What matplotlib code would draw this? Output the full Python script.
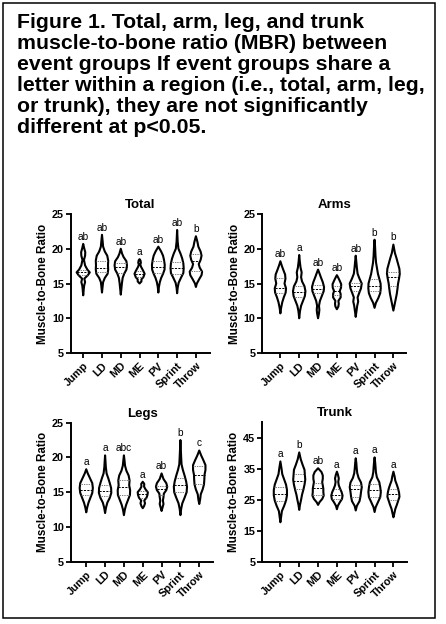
import matplotlib
matplotlib.use("Agg")
import matplotlib.pyplot as plt
import numpy as np
from matplotlib.patches import Rectangle

plt.rcParams["font.family"] = ["Liberation Sans", "DejaVu Sans"]

GROUPS = ["Jump", "LD", "MD", "ME", "PV", "Sprint", "Throw"]

# violin outlines: (ratio, half-width in category units)
total_shape = [
    [(13.3, 0), (14.2, .03), (14.7, .05), (15.2, .1), (15.7, .06), (16.2, .25), (16.6, .35),
     (17.0, .22), (17.6, .1), (18.4, .04), (19.0, .1), (19.5, .11), (20.1, .05), (20.7, 0)],
    [(13.7, 0), (14.5, .03), (15.2, .06), (15.8, .15), (16.4, .3), (17.0, .33), (17.6, .32),
     (18.3, .33), (19.0, .28), (19.6, .15), (20.3, .06), (21.2, .03), (22.0, 0)],
    [(13.4, 0), (14.2, .03), (15.0, .06), (15.8, .1), (16.4, .18), (17.0, .3), (17.6, .33),
     (18.2, .3), (18.8, .15), (19.3, .07), (20.0, 0)],
    [(15.0, 0), (15.3, .1), (15.6, .1), (15.9, .2), (16.4, .27), (16.9, .18), (17.4, .08),
     (17.7, .04), (18.0, .07), (18.3, .05), (18.5, 0)],
    [(13.7, 0), (14.5, .03), (15.2, .08), (15.8, .15), (16.4, .25), (17.0, .33), (17.7, .34),
     (18.4, .3), (19.0, .25), (19.6, .15), (20.3, 0)],
    [(13.6, 0), (14.4, .03), (15.1, .08), (15.8, .2), (16.5, .33), (17.2, .35), (17.9, .33),
     (18.6, .27), (19.3, .18), (20.0, .07), (21.0, .03), (22.7, 0)],
    [(14.5, 0), (15.0, .05), (15.6, .17), (16.2, .3), (16.7, .33), (17.3, .2), (17.8, .15),
     (18.4, .25), (19.0, .3), (19.6, .25), (20.3, .13), (21.0, .08), (21.8, 0)],
]
total_q1 = [16.25, 16.6, 16.5, 15.9, 16.5, 16.4, 16.8]
total_med = [16.65, 17.3, 17.4, 16.3, 17.4, 17.2, 18.3]
total_q3 = [17.0, 18.3, 17.9, 16.8, 18.2, 18.1, 19.2]
total_letters = ["ab", "ab", "ab", "a", "ab", "ab", "b"]

arms_shape = [
    [(10.7, 0), (11.5, .04), (12.3, .1), (13.0, .18), (13.7, .28), (14.3, .3), (15.0, .22),
     (15.7, .27), (16.3, .25), (17.0, .15), (17.6, .07), (18.2, 0)],
    [(10.0, 0), (11.0, .04), (11.8, .1), (12.5, .2), (13.2, .3), (13.9, .33), (14.6, .28),
     (15.3, .15), (15.9, .1), (16.6, .13), (17.3, .07), (18.2, .03), (19.1, 0)],
    [(10.0, 0), (10.7, .05), (11.2, .07), (11.8, .05), (12.5, .1), (13.2, .2), (13.9, .3),
     (14.5, .32), (15.2, .25), (15.9, .15), (16.5, .07), (17.0, 0)],
    [(11.3, 0), (11.7, .08), (12.1, .1), (12.5, .08), (13.0, .2), (13.5, .2), (13.9, .15),
     (14.4, .22), (14.9, .23), (15.4, .15), (15.9, .06), (16.2, 0)],
    [(10.2, 0), (11.0, .04), (11.8, .08), (12.4, .13), (13.0, .1), (13.6, .18), (14.3, .28),
     (15.0, .32), (15.7, .2), (16.4, .1), (17.3, .06), (18.2, .03), (19.0, 0)],
    [(11.5, 0), (12.2, .07), (12.9, .2), (13.6, .3), (14.3, .33), (15.0, .32), (15.7, .25),
     (16.4, .18), (17.2, .13), (18.0, .08), (19.0, .05), (20.2, .03), (21.3, 0)],
    [(11.1, 0), (11.9, .06), (12.7, .12), (13.5, .18), (14.3, .22), (15.0, .25), (15.7, .3),
     (16.4, .34), (17.1, .32), (17.8, .25), (18.6, .17), (19.4, .08), (20.6, 0)],
]
arms_q1 = [13.6, 13.0, 13.6, 13.3, 13.9, 13.9, 14.7]
arms_med = [14.4, 13.8, 14.2, 13.9, 14.6, 14.7, 16.0]
arms_q3 = [15.8, 14.7, 14.8, 14.6, 15.1, 15.6, 16.7]
arms_letters = ["ab", "a", "ab", "ab", "ab", "b", "b"]

legs_shape = [
    [(12.1, 0), (12.8, .05), (13.5, .12), (14.2, .22), (14.9, .32), (15.6, .35), (16.3, .32),
     (17.0, .2), (17.7, .08), (18.3, 0)],
    [(12.0, 0), (12.8, .05), (13.5, .12), (14.2, .25), (14.9, .33), (15.6, .32), (16.3, .25),
     (17.0, .17), (17.7, .08), (18.6, .04), (19.5, .02), (20.3, 0)],
    [(11.7, 0), (12.5, .05), (13.2, .12), (13.9, .22), (14.6, .32), (15.3, .33), (16.0, .28),
     (16.7, .3), (17.4, .25), (18.1, .13), (18.8, .06), (19.6, .03), (20.3, 0)],
    [(12.7, 0), (13.0, .07), (13.4, .12), (13.8, .08), (14.2, .2), (14.6, .25), (15.0, .27),
     (15.4, .15), (15.8, .07), (16.2, .08), (16.5, 0)],
    [(12.3, 0), (12.8, .05), (13.3, .1), (13.8, .07), (14.3, .1), (14.8, .12), (15.3, .25),
     (15.8, .3), (16.3, .25), (16.9, .1), (17.7, 0)],
    [(11.7, 0), (12.6, .04), (13.4, .1), (14.2, .22), (15.0, .33), (15.8, .35), (16.6, .3),
     (17.4, .22), (18.2, .13), (19.0, .06), (20.0, .04), (21.2, .02), (22.5, 0)],
    [(13.3, 0), (14.0, .05), (14.7, .08), (15.4, .18), (16.1, .25), (16.8, .27), (17.5, .28),
     (18.2, .33), (18.9, .33), (19.6, .22), (20.3, .1), (21.0, 0)],
]
legs_q1 = [14.6, 14.4, 14.6, 14.1, 14.6, 15.0, 16.2]
legs_med = [15.3, 15.2, 15.8, 14.7, 15.5, 16.1, 17.5]
legs_q3 = [16.2, 16.1, 16.7, 15.2, 15.9, 17.1, 18.8]
legs_letters = ["a", "a", "abc", "a", "ab", "b", "c"]

trunk_shape = [
    [(17.7, 0), (19.5, .04), (21.3, .08), (23.0, .2), (24.7, .3), (26.4, .35), (28.1, .35),
     (29.8, .3), (31.5, .2), (33.2, .1), (35.0, .06), (37.3, 0)],
    [(21.7, 0), (23.3, .04), (25.0, .1), (26.6, .15), (28.2, .22), (29.8, .28), (31.4, .32),
     (33.0, .3), (34.6, .28), (36.2, .18), (38.0, .08), (40.2, 0)],
    [(23.3, 0), (24.2, .08), (25.2, .22), (26.3, .3), (27.4, .28), (28.5, .28), (29.6, .25),
     (30.6, .22), (31.7, .25), (32.8, .25), (33.9, .18), (35.1, 0)],
    [(21.9, 0), (23.0, .05), (24.1, .15), (25.2, .27), (26.3, .3), (27.4, .25), (28.5, .17),
     (29.6, .1), (30.7, .07), (31.8, .1), (32.9, .06), (34.0, 0)],
    [(21.5, 0), (23.0, .06), (24.5, .2), (26.0, .25), (27.5, .28), (29.0, .32), (30.5, .28),
     (32.0, .15), (33.5, .08), (35.2, .05), (36.8, .03), (38.3, 0)],
    [(21.0, 0), (22.6, .06), (24.2, .18), (25.8, .3), (27.4, .33), (29.0, .3), (30.6, .25),
     (32.2, .12), (33.8, .07), (35.5, .05), (37.0, .03), (38.6, 0)],
    [(19.3, 0), (20.6, .05), (22.0, .1), (23.3, .18), (24.6, .25), (25.9, .32), (27.2, .3),
     (28.5, .25), (29.8, .18), (31.1, .1), (32.5, .06), (34.0, 0)],
]
trunk_q1 = [24.5, 28.4, 26.4, 25.3, 25.8, 25.8, 24.8]
trunk_med = [26.8, 31.0, 28.6, 26.5, 28.3, 28.2, 26.8]
trunk_q3 = [29.2, 33.3, 30.5, 28.5, 29.8, 29.9, 28.3]
trunk_letters = ["a", "b", "ab", "a", "a", "a", "a"]

TITLE_LINES = [
    "Figure 1. Total, arm, leg, and trunk",
    "muscle-to-bone ratio (MBR) between",
    "event groups If event groups share a",
    "letter within a region (i.e., total, arm, leg,",
    "or trunk), they are not significantly",
    "different at p<0.05.",
]

W, H = 446, 624
fig = plt.figure(figsize=(W / 100, H / 100), dpi=100)
fig.patches.append(Rectangle((3 / W, 1 - 618 / H), 432 / W, 615 / H, transform=fig.transFigure,
                             fill=False, edgecolor="black", lw=1.1))
for k, line in enumerate(TITLE_LINES):
    fig.text(17 / W, 1 - (28.5 + 20.9 * k) / H, line, fontsize=15.3, fontweight="bold",
             ha="left", va="baseline")


def panel(px, title, shapes, q1, med, q3, letters, ylim, yticks, xlim):
    x0, x1, ytop, ybot = px
    ax = fig.add_axes([x0 / W, 1 - ybot / H, (x1 - x0) / W, (ybot - ytop) / H])
    for i, shp in enumerate(shapes):
        ys = np.array([p[0] for p in shp])
        ws = np.array([p[1] for p in shp])
        xs = np.concatenate([i + ws, (i - ws)[::-1]])
        yy = np.concatenate([ys, ys[::-1]])
        ax.fill(xs, yy, facecolor="white", edgecolor="black", lw=1.5, joinstyle="round")
        for q, ls, c in ((q1[i], ":", "0.35"), (med[i], "--", "black"), (q3[i], ":", "0.35")):
            w = np.interp(q, ys, ws)
            ax.plot([i - w, i + w], [q, q], ls=ls, color=c, lw=0.7,
                    dashes=(2.2, 1.3) if ls == "--" else (0.8, 1.0))
        ax.annotate(letters[i], (i, ys[-1]), xytext=(0, 1.5), textcoords="offset points",
                    ha="center", va="bottom", fontsize=7.3)
    ax.set_xlim(*xlim)
    ax.set_ylim(*ylim)
    ax.set_yticks(yticks)
    ax.set_xticks(range(len(GROUPS)))
    ax.set_xticklabels(GROUPS, rotation=45, ha="right", rotation_mode="anchor",
                       fontsize=7.8, fontweight="bold")
    for lab in ax.get_yticklabels():
        lab.set_fontweight("bold")
    ax.tick_params(axis="both", length=3.5, width=1.3, labelsize=7.8, pad=1.5)
    ax.tick_params(axis="x", pad=2)
    for s in ("top", "right"):
        ax.spines[s].set_visible(False)
    for s in ("left", "bottom"):
        ax.spines[s].set_linewidth(1.4)
    ax.set_ylabel("Muscle-to-Bone Ratio", fontsize=8.4, fontweight="bold", labelpad=2)
    ax.set_title(title, fontsize=9.5, fontweight="bold", pad=4)
    ax.set_facecolor("none")
    return ax


panel((71, 210, 214, 353), "Total", total_shape, total_q1, total_med, total_q3,
      total_letters, (5, 25), [5, 10, 15, 20, 25], (-0.65, 6.75))
panel((262.3, 406, 214, 353), "Arms", arms_shape, arms_q1, arms_med, arms_q3,
      arms_letters, (5, 25), [5, 10, 15, 20, 25], (-0.96, 6.67))
panel((71, 213, 422.7, 561.7), "Legs", legs_shape, legs_q1, legs_med, legs_q3,
      legs_letters, (5, 25), [5, 10, 15, 20, 25], (-0.81, 6.73))
panel((262.3, 407, 422, 561.7), "Trunk", trunk_shape, trunk_q1, trunk_med, trunk_q3,
      trunk_letters, (5, 50), [5, 15, 25, 35, 45], (-0.96, 6.72))

fig.savefig("out.png", dpi=100)
